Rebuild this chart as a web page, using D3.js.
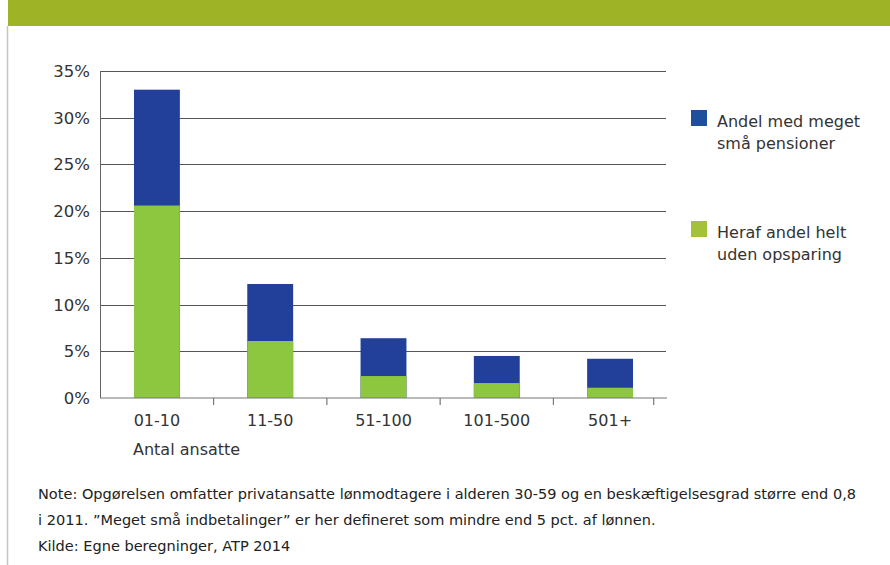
<!DOCTYPE html>
<html><head><meta charset="utf-8">
<script src="https://cdn.jsdelivr.net/npm/d3@7"></script>
<style>
html,body{margin:0;padding:0;background:#fff;}
svg{display:block;}
text{font-family:"DejaVu Sans",sans-serif;fill:#333;}
</style></head>
<body><svg id="c" width="890" height="565"></svg>
<script>
const categories = ["01-10","11-50","51-100","101-500","501+"];
const totalShare = [33.0, 12.2, 6.4, 4.5, 4.2];      // Andel med meget små pensioner
const noSavingShare = [20.6, 6.1, 2.35, 1.6, 1.1];   // Heraf andel helt uden opsparing
const yTicks = [0,5,10,15,20,25,30,35];
const seriesNames = ["Andel med meget små pensioner","Heraf andel helt uden opsparing"];
const legendLines = [["Andel med meget","små pensioner"],["Heraf andel helt","uden opsparing"]];
const noteLines = [
  "Note: Opgørelsen omfatter privatansatte lønmodtagere i alderen 30-59 og en beskæftigelsesgrad større end 0,8",
  "i 2011. \u201dMeget små indbetalinger\u201d er her defineret som mindre end 5 pct. af lønnen.",
  "Kilde: Egne beregninger, ATP 2014"
];
const xTitle = "Antal ansatte";

const svg = d3.select("#c");
// banner
svg.append("rect").attr("x",8).attr("y",0).attr("width",882).attr("height",26).attr("fill","#9fb327");
svg.append("text").attr("x",62).attr("y",-9).attr("font-size",20).style("fill","#222").text("p");
// left page border
svg.append("line").attr("x1",7.5).attr("x2",7.5).attr("y1",26).attr("y2",565).attr("stroke","#c4c4c4").attr("stroke-width",1.5);

const x = d3.scaleBand().domain(categories).range([100,667]).paddingInner(0.595).paddingOuter(0.3);
const y = d3.scaleLinear().domain([0,35]).range([398,71]);

// grid
svg.append("g").selectAll("line").data(yTicks.filter(d=>d>0)).join("line")
  .attr("x1",100).attr("x2",666).attr("y1",d=>Math.round(y(d))+0.5).attr("y2",d=>Math.round(y(d))+0.5)
  .attr("stroke","#555").attr("stroke-width",1);
// y labels
svg.append("g").selectAll("text").data(yTicks).join("text")
  .attr("x",90).attr("y",d=>y(d)).attr("dy","0.36em").attr("text-anchor","end")
  .attr("font-size",16.5).text(d=>d+"%");
// left axis
svg.append("line").attr("x1",100.5).attr("x2",100.5).attr("y1",71).attr("y2",398).attr("stroke","#666");

// bars
const g = svg.append("g");
g.selectAll("rect.t").data(categories).join("rect").attr("class","t")
  .attr("x",d=>x(d)).attr("width",x.bandwidth())
  .attr("y",(d,i)=>y(totalShare[i])).attr("height",(d,i)=>y(0)-y(totalShare[i]))
  .attr("fill","#22409a");
g.selectAll("rect.n").data(categories).join("rect").attr("class","n")
  .attr("x",d=>x(d)).attr("width",x.bandwidth())
  .attr("y",(d,i)=>y(noSavingShare[i])).attr("height",(d,i)=>y(0)-y(noSavingShare[i]))
  .attr("fill","#8dc63f");

// bottom axis
svg.append("line").attr("x1",100).attr("x2",667).attr("y1",398).attr("y2",398).attr("stroke","#777").attr("stroke-width",1.2);
const step = x.step();
const tickX = categories.slice(1).map(c=>x(c)-(step-x.bandwidth())/2);
tickX.push(x(categories[categories.length-1])+x.bandwidth()+(step-x.bandwidth())/2-13);
svg.append("g").selectAll("line").data(tickX).join("line")
  .attr("x1",d=>d).attr("x2",d=>d).attr("y1",398).attr("y2",405).attr("stroke","#777").attr("stroke-width",1.2);
svg.append("g").selectAll("text").data(categories).join("text")
  .attr("x",d=>x(d)+x.bandwidth()/2).attr("y",426).attr("text-anchor","middle").attr("font-size",16).text(d=>d);
svg.append("text").attr("x",133).attr("y",455).attr("font-size",16).text(xTitle);

// legend
const legColors = ["#1f4e9c","#a4c13a"];
const legTop = [110,221];
legendLines.forEach((lines,i)=>{
  svg.append("rect").attr("x",691).attr("y",legTop[i]).attr("width",16).attr("height",16).attr("fill",legColors[i]);
  lines.forEach((l,j)=>svg.append("text").attr("x",717).attr("y",legTop[i]+17+j*22).attr("font-size",16).text(l));
});

// notes
const noteY = [499,525,551];
const notes = noteLines.map((t,i)=>svg.append("text").attr("x",38).attr("y",noteY[i]).attr("font-size",14)
    .style("fill","#222").text(t));
const w0 = notes[0].node().getComputedTextLength();
const fs = 14*819/w0;
notes.forEach(n=>n.attr("font-size",fs));
</script></body></html>
